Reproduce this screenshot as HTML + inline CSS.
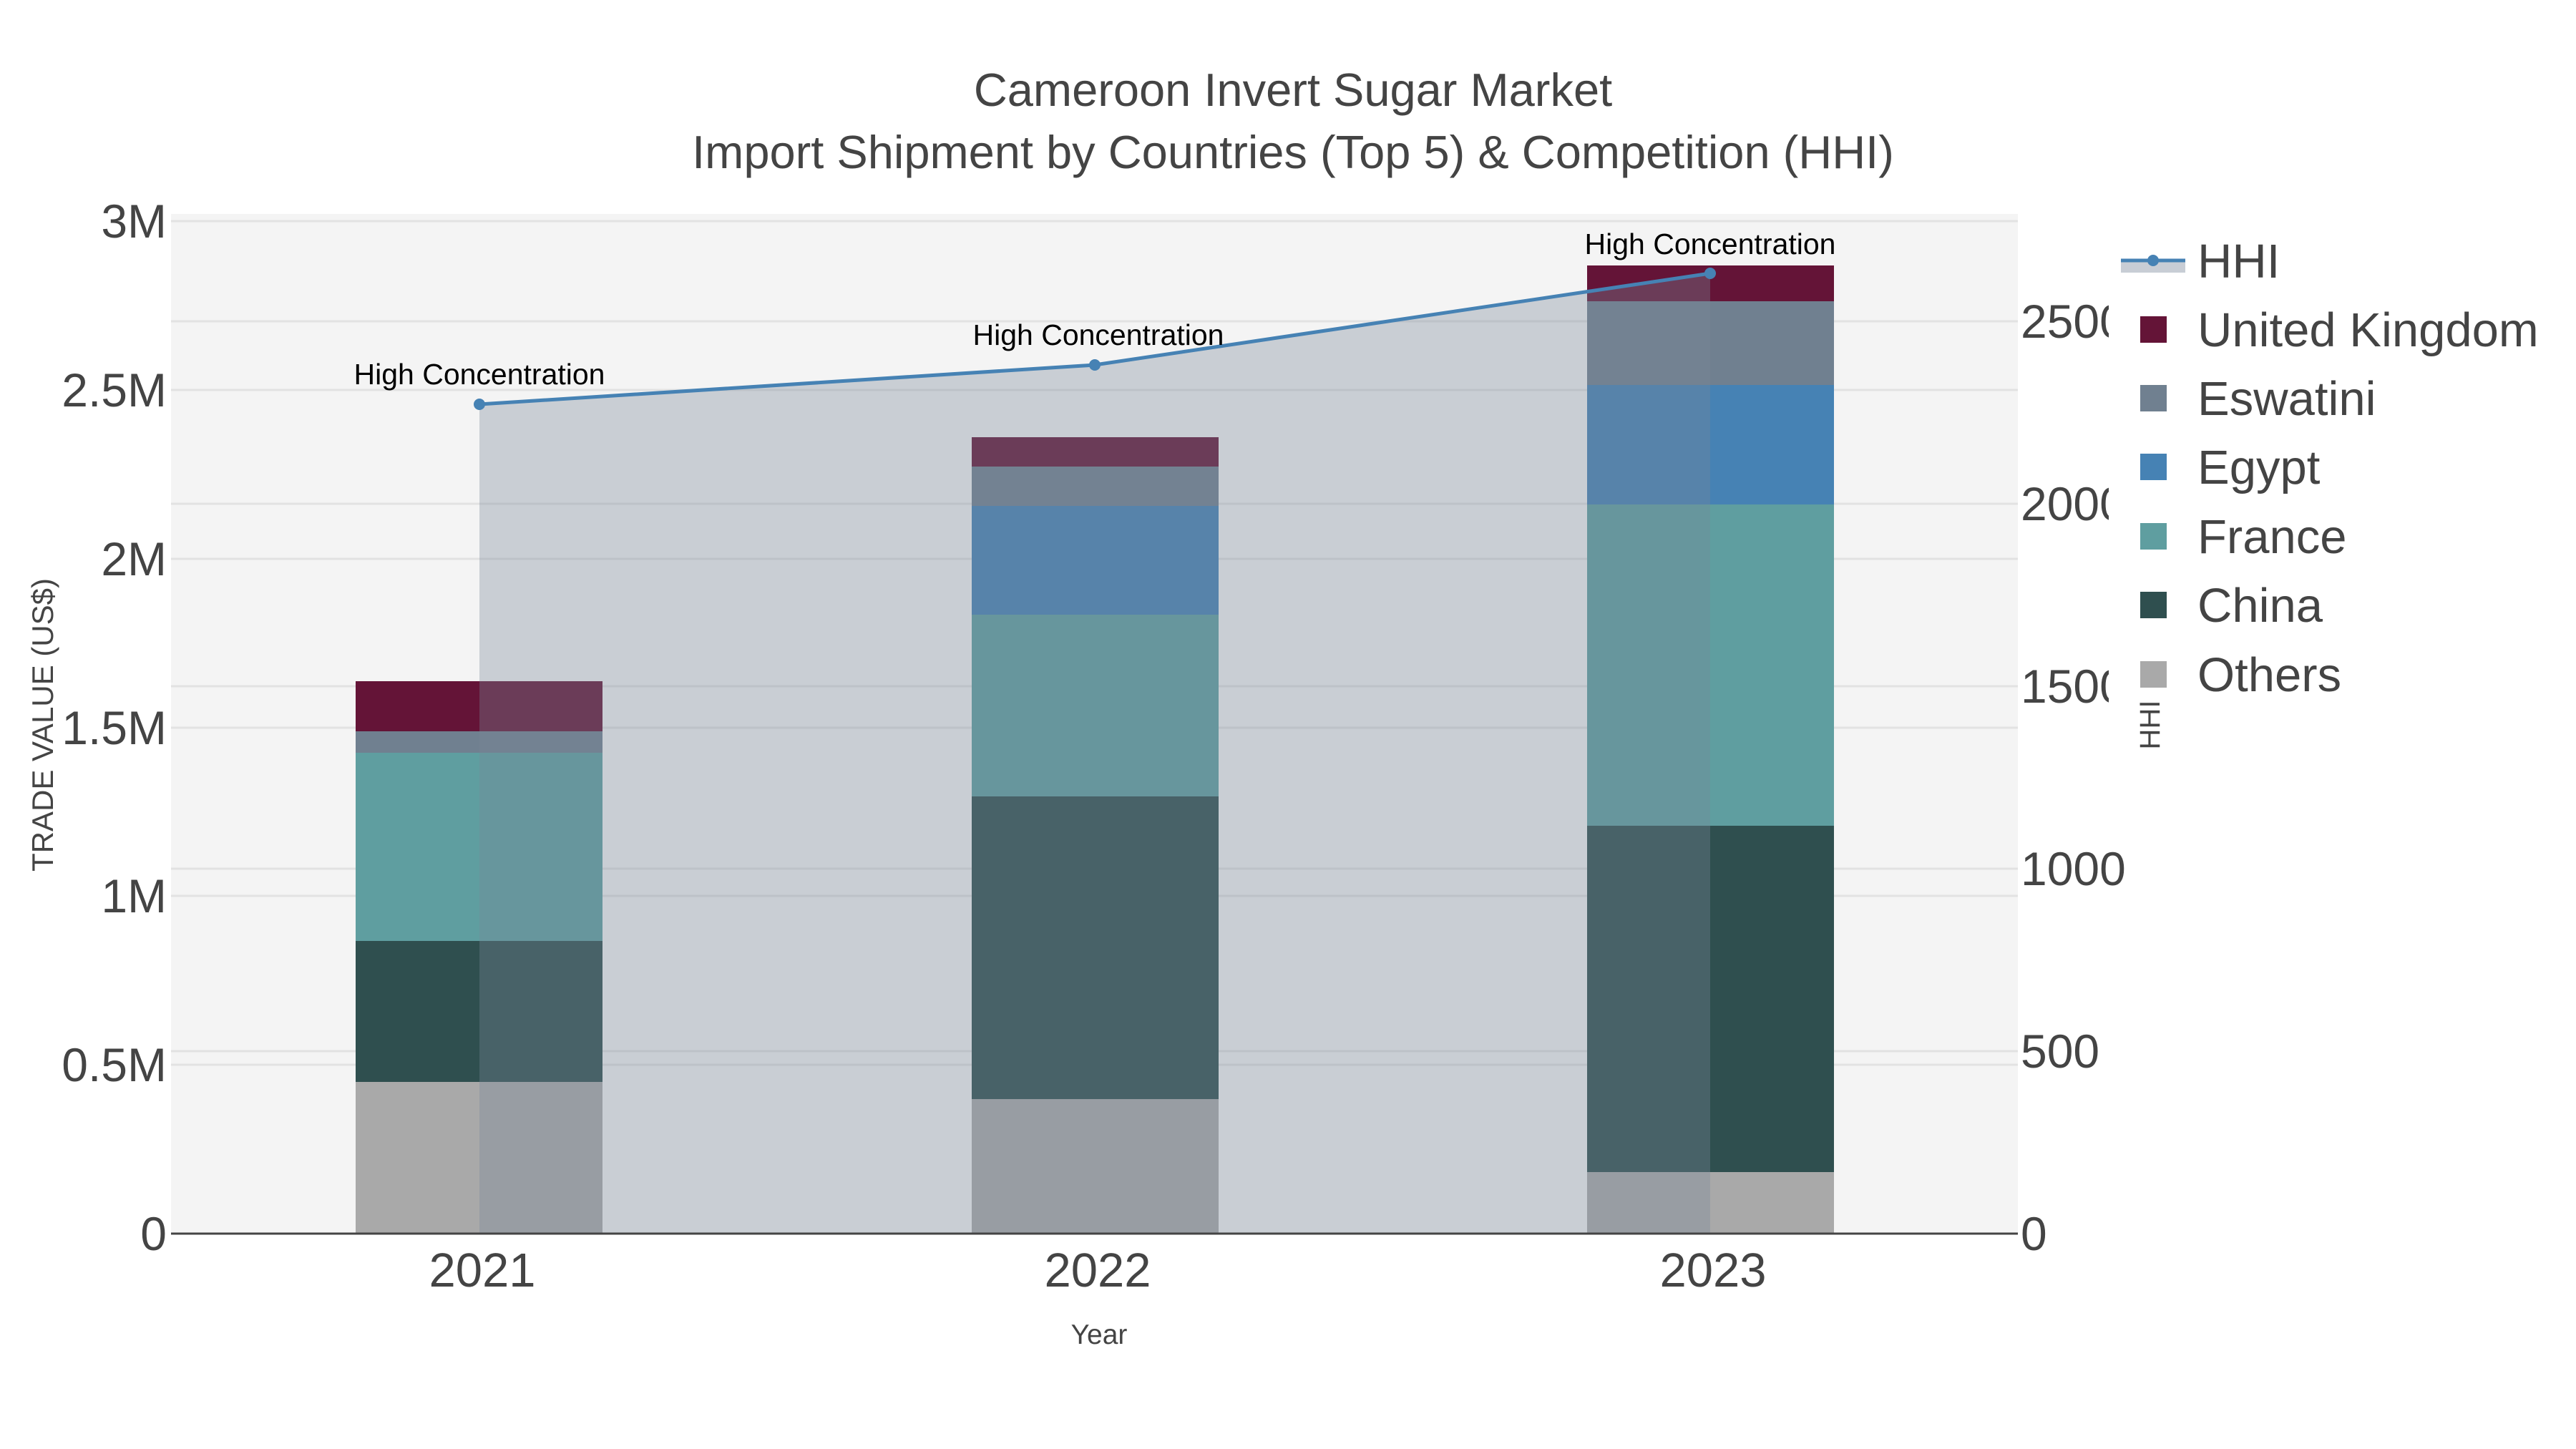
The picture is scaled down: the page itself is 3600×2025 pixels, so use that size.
<!DOCTYPE html>
<html><head><meta charset="utf-8"><style>
html,body{margin:0;padding:0;background:#fff}
svg{display:block}
text{font-family:"Liberation Sans",Arial,sans-serif;fill:#444}
</style></head><body>
<svg width="3600" height="2025" viewBox="0 0 3600 2025" xmlns="http://www.w3.org/2000/svg">
<rect x="0" y="0" width="3600" height="2025" fill="#fff"/>
<rect x="239" y="299" width="2581" height="1425" fill="#f4f4f4"/>
<g stroke="#e2e2e2" stroke-width="3">
<line x1="239" x2="2820" y1="309" y2="309"/>
<line x1="239" x2="2820" y1="545" y2="545"/>
<line x1="239" x2="2820" y1="781" y2="781"/>
<line x1="239" x2="2820" y1="1017" y2="1017"/>
<line x1="239" x2="2820" y1="1252" y2="1252"/>
<line x1="239" x2="2820" y1="1488" y2="1488"/>
<line x1="239" x2="2820" y1="449" y2="449"/>
<line x1="239" x2="2820" y1="704" y2="704"/>
<line x1="239" x2="2820" y1="959" y2="959"/>
<line x1="239" x2="2820" y1="1214" y2="1214"/>
<line x1="239" x2="2820" y1="1469" y2="1469"/>
</g>
<g>
<rect x="497" y="1512" width="345" height="212" fill="#a9a9a9"/>
<rect x="497" y="1315" width="345" height="197" fill="#2f4f4f"/>
<rect x="497" y="1052" width="345" height="263" fill="#5f9ea0"/>
<rect x="497" y="1022" width="345" height="30" fill="#708090"/>
<rect x="497" y="952" width="345" height="70" fill="#641437"/>
</g>
<g>
<rect x="1358" y="1536" width="345" height="188" fill="#a9a9a9"/>
<rect x="1358" y="1113" width="345" height="423" fill="#2f4f4f"/>
<rect x="1358" y="859" width="345" height="254" fill="#5f9ea0"/>
<rect x="1358" y="707" width="345" height="152" fill="#4682b4"/>
<rect x="1358" y="652" width="345" height="55" fill="#708090"/>
<rect x="1358" y="611" width="345" height="41" fill="#641437"/>
</g>
<g>
<rect x="2218" y="1638" width="345" height="86" fill="#a9a9a9"/>
<rect x="2218" y="1154" width="345" height="484" fill="#2f4f4f"/>
<rect x="2218" y="705" width="345" height="449" fill="#5f9ea0"/>
<rect x="2218" y="538" width="345" height="167" fill="#4682b4"/>
<rect x="2218" y="421" width="345" height="117" fill="#708090"/>
<rect x="2218" y="371" width="345" height="50" fill="#641437"/>
</g>
<polygon points="670,565 1530,510 2390,382 2390,1724 670,1724" fill="rgb(119,136,153)" fill-opacity="0.35"/>
<polyline points="670,565 1530,510 2390,382" fill="none" stroke="#4682b4" stroke-width="5"/>
<circle cx="670" cy="565" r="8" fill="#4682b4"/>
<circle cx="1530" cy="510" r="8" fill="#4682b4"/>
<circle cx="2390" cy="382" r="8" fill="#4682b4"/>
<g font-size="41" text-anchor="middle">
<text x="670" y="537" style="fill:#000">High Concentration</text>
<text x="1535" y="482" style="fill:#000">High Concentration</text>
<text x="2390" y="355" style="fill:#000">High Concentration</text>
</g>
<line x1="239" x2="2820" y1="1724" y2="1724" stroke="#444" stroke-width="3"/>
<g font-size="66" text-anchor="end">
<text x="233" y="332">3M</text>
<text x="233" y="568">2.5M</text>
<text x="233" y="804">2M</text>
<text x="233" y="1040">1.5M</text>
<text x="233" y="1275">1M</text>
<text x="233" y="1511">0.5M</text>
<text x="233" y="1747">0</text>
</g>
<g font-size="66">
<text x="2824" y="472">2500</text>
<text x="2824" y="727">2000</text>
<text x="2824" y="982">1500</text>
<text x="2824" y="1237">1000</text>
<text x="2824" y="1492">500</text>
<text x="2824" y="1747">0</text>
</g>
<g font-size="67" text-anchor="middle">
<text x="674" y="1798">2021</text>
<text x="1534" y="1798">2022</text>
<text x="2394" y="1798">2023</text>
</g>
<text x="1536" y="1878" font-size="39" text-anchor="middle">Year</text>
<text transform="translate(74,1013) rotate(-90)" font-size="42" text-anchor="middle">TRADE VALUE (US$)</text>
<g font-size="65" text-anchor="middle">
<text x="1807" y="148">Cameroon Invert Sugar Market</text>
<text x="1807" y="235">Import Shipment by Countries (Top 5) &amp; Competition (HHI)</text>
</g>
<rect x="2947" y="320" width="653" height="665" fill="#fff"/>
<rect x="2964" y="364" width="90" height="17" fill="#c8cdd5"/>
<line x1="2964" x2="3054" y1="364" y2="364" stroke="#4682b4" stroke-width="5"/>
<circle cx="3009" cy="364" r="8" fill="#4682b4"/>
<g font-size="67">
<text x="3071" y="388">HHI</text>
<text x="3071" y="484">United Kingdom</text>
<text x="3071" y="580">Eswatini</text>
<text x="3071" y="676">Egypt</text>
<text x="3071" y="773">France</text>
<text x="3071" y="869">China</text>
<text x="3071" y="966">Others</text>
</g>
<rect x="2991" y="442" width="37" height="37" fill="#641437"/>
<rect x="2991" y="538" width="37" height="37" fill="#708090"/>
<rect x="2991" y="634" width="37" height="37" fill="#4682b4"/>
<rect x="2991" y="731" width="37" height="37" fill="#5f9ea0"/>
<rect x="2991" y="827" width="37" height="37" fill="#2f4f4f"/>
<rect x="2991" y="924" width="37" height="37" fill="#a9a9a9"/>
<text transform="translate(3018,1013) rotate(-90)" font-size="40" text-anchor="middle">HHI</text>
</svg>
</body></html>
